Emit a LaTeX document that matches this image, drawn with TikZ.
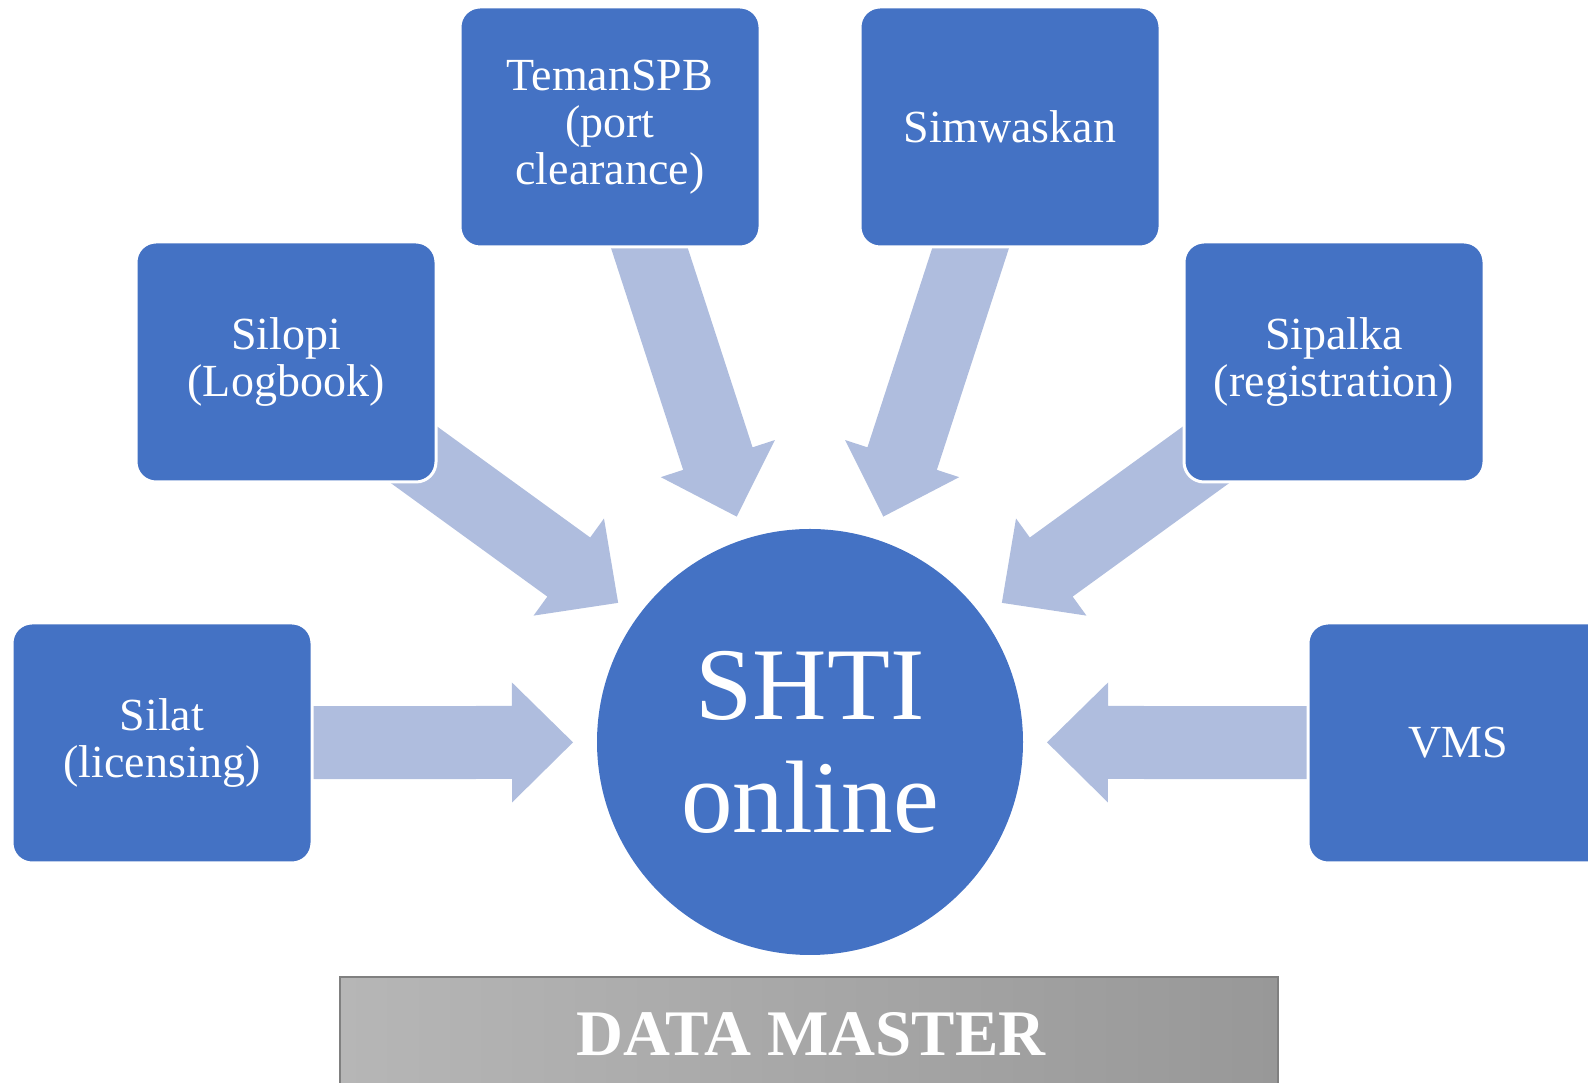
\documentclass[tikz,border=0pt]{standalone}
\usepackage{fontspec}
\setmainfont{Liberation Serif}
\usetikzlibrary{calc, backgrounds}

\definecolor{boxblue}{RGB}{68,114,196}
\definecolor{arrowblue}{RGB}{175,189,222}
\definecolor{barlight}{RGB}{182,182,182}
\definecolor{bardark}{RGB}{152,152,152}

\tikzset{
  system/.style={rectangle, rounded corners=20pt, fill=boxblue, draw=white,
    line width=3pt, text=white, minimum width=300pt, minimum height=240pt,
    align=center, font=\fontsize{46}{47}\selectfont},
  hub/.style={circle, fill=boxblue, minimum size=426pt, inner sep=0pt,
    text=white, align=center, font=\fontsize{103}{113}\selectfont},
  feed/.style={fill=arrowblue},
}

\begin{document}
\begin{tikzpicture}[x=1pt,y=1pt]
\useasboundingbox (0,0) rectangle (1588,1083);
\clip (0,0) rectangle (1588,1083);
% Centre
\node[hub] (shti) at (810,341) {SHTI\\online};
% Source systems
\node[system] (silat) at (162,340) {Silat\\(licensing)};
\node[system] (silopi) at (286,721) {Silopi\\(Logbook)};
\node[system] (teman) at (610,956) {TemanSPB\\(port\\clearance)};
\node[system] (simwaskan) at (1010,956) {Simwaskan};
\node[system] (sipalka) at (1334,721) {Sipalka\\(registration)};
\node[system] (vms) at (1458,340) {VMS};
% Block arrows towards the centre
\begin{scope}[on background layer]
\foreach \src in {silat,silopi,teman,simwaskan,sipalka,vms}
  \fill[feed] let \p1 = ($(\src)-(shti)$), \n1 = {atan2(\y1,\x1)} in
    ($(shti)+(\n1:237)$)
    -- ($(shti)+(\n1:298)+({\n1+90}:60)$)
    -- ($(shti)+(\n1:298)+({\n1+90}:36.5)$)
    -- ($(shti)+(\n1:600)+({\n1+90}:36.5)$)
    -- ($(shti)+(\n1:600)+({\n1-90}:36.5)$)
    -- ($(shti)+(\n1:298)+({\n1-90}:36.5)$)
    -- ($(shti)+(\n1:298)+({\n1-90}:60)$) -- cycle;
\end{scope}
% Data master bar
\shadedraw[left color=barlight, right color=bardark, draw=gray, line width=1.5pt]
  (340,106) rectangle (1278,-10);
\node[text=white, font=\bfseries\fontsize{65}{70}\selectfont, anchor=base]
  (master) at (811,27) {DATA MASTER};
\end{tikzpicture}
\end{document}
